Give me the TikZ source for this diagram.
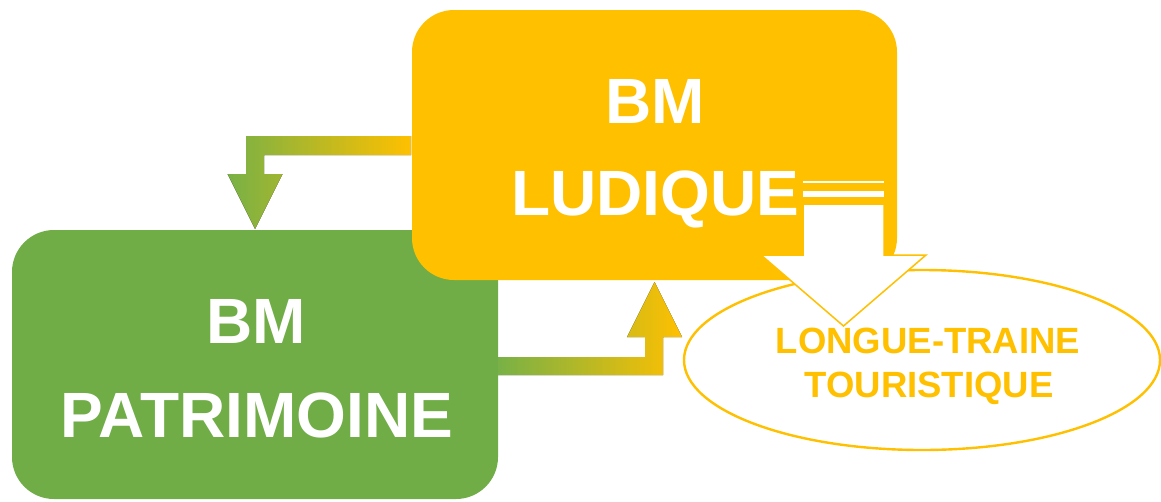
\documentclass[tikz,border=0pt]{standalone}
\usepackage{fontspec}
\setmainfont{Liberation Sans}
\usetikzlibrary{shapes.geometric}
\definecolor{ygold}{HTML}{FFC000}
\definecolor{lgreen}{HTML}{70AD47}
\definecolor{agreen}{HTML}{78B146}
\begin{document}
\begin{tikzpicture}[x=1pt,y=-1pt,
  bigbox/.style={rounded corners=42pt, inner sep=0pt, draw=none},
  bigtext/.style={anchor=base, text=white, font=\fontsize{64}{75}\selectfont\bfseries, inner sep=0pt},
  smalltext/.style={anchor=base, text=ygold, font=\fontsize{36.5}{42}\selectfont\bfseries, inner sep=0pt},
  gradarrow/.style={left color=agreen, right color=ygold, draw=none}
]
\useasboundingbox (0,0) rectangle (1161,501);

% green box
\node[bigbox, fill=lgreen, minimum width=486pt, minimum height=269pt] (patr) at (255,364.5) {};

% arrow from yellow box to green box
\coordinate (a1s) at (411,145.5);
\fill[gradarrow] (a1s |- 0,136) -- (246,136) -- (246,174) -- (227.5,174) -- (255,229)
  -- (282.5,174) -- (264,174) -- (264,155) -- (a1s |- 0,155) -- cycle;

% yellow box
\node[bigbox, fill=ygold, minimum width=485pt, minimum height=270pt] (ludi) at (654.5,145) {};

% arrow from green box to yellow box
\fill[gradarrow] (patr.east |- 0,357) -- (645,357) -- (645,337) -- (627,337) -- (654.5,282)
  -- (682,337) -- (663,337) -- (663,375) -- (patr.east |- 0,375) -- cycle;

% ellipse
\node[ellipse, draw=ygold, line width=2.4pt, fill=white, minimum width=476pt, minimum height=180pt, inner sep=0pt] (lt) at (922,360) {};

% white striped arrow
\fill[white] (803,181) rectangle (884,183);
\fill[white] (803,191) rectangle (884,197);
\filldraw[fill=white, draw=ygold, line width=1.5pt, line join=miter]
  (803,204) -- (803,255) -- (761,255) -- (843.5,326) -- (926,255) -- (884,255) -- (884,204) -- cycle;

% texts
\node[bigtext] (t1) at (655,123) {BM};
\node[bigtext] (t2) at (655,215) {LUDIQUE};
\node[bigtext] (t3) at (256,343) {BM};
\node[bigtext] (t4) at (257,437) {PATRIMOINE};
\node[smalltext] (t5) at (928,353) {LONGUE-TRAINE};
\node[smalltext] (t6) at (929,397) {TOURISTIQUE};
\end{tikzpicture}
\end{document}
